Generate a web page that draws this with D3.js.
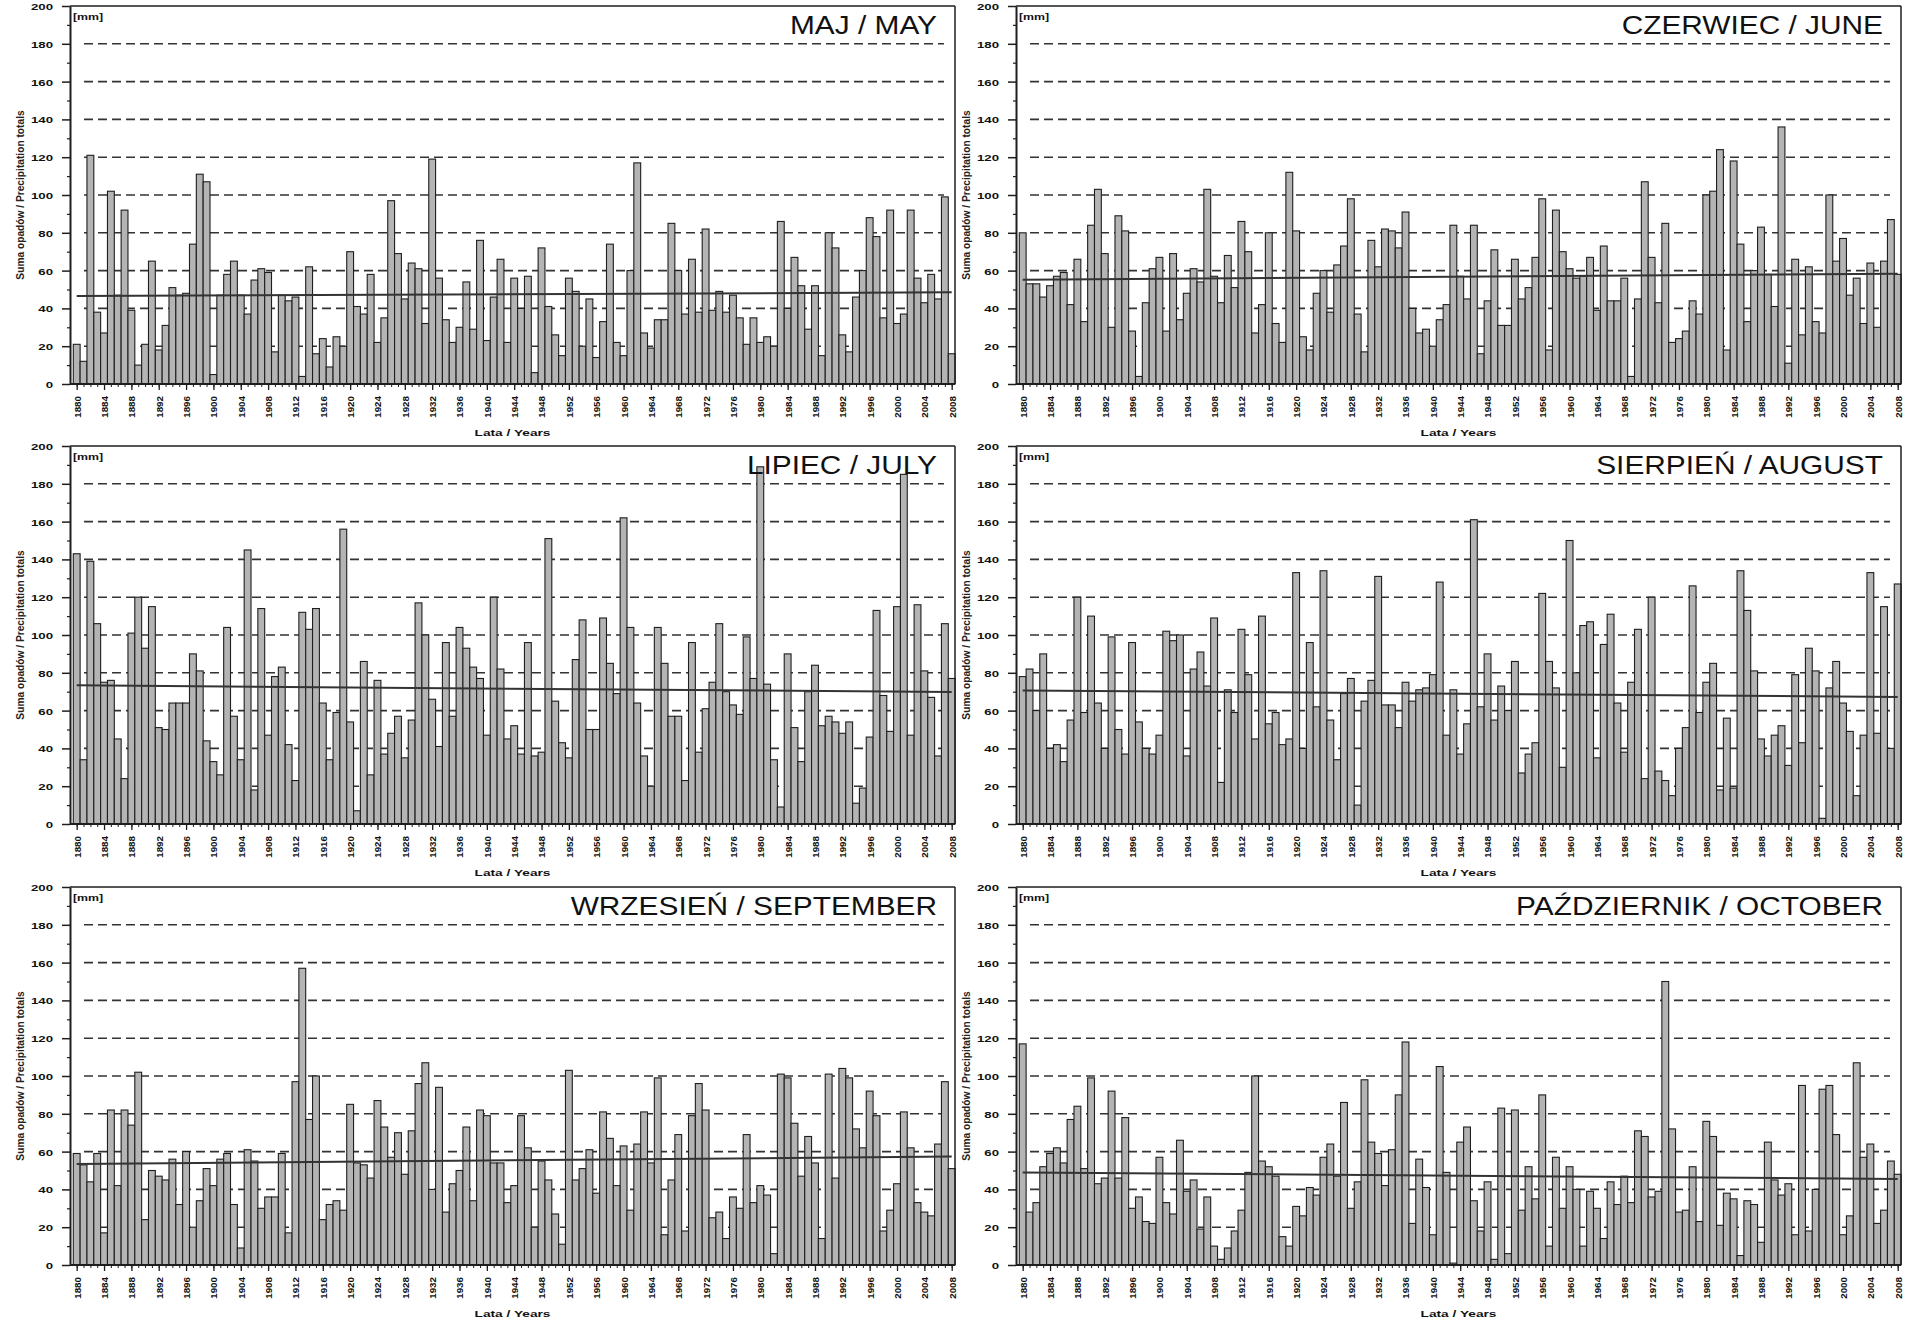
<!DOCTYPE html>
<html><head><meta charset="utf-8">
<script src="https://cdn.jsdelivr.net/npm/d3@7"></script>
<style>body{margin:0;background:#fff} svg{display:block} text{font-family:"Liberation Sans",Arial,sans-serif}</style>
</head><body><svg id="c" width="1915" height="1334"></svg>
<script>
const years = d3.range(1880, 2009);
const may = [21,12,121,38,27,102,47,92,39,10, 21,65,18,31,51,47,48,74,111,107, 5,47,58,65,47,37,55,61,59,17, 47,44,46,4,62,16,24,9,25,20, 70,41,37,58,22,35,97,69,45,64, 61,32,119,56,34,22,30,54,29,76, 23,46,66,22,56,40,57,6,72,41, 26,15,56,49,20,45,14,33,74,22, 15,60,117,27,19,34,34,85,60,37, 66,38,82,39,49,38,47,35,21,35, 22,25,20,86,40,67,52,29,52,15, 80,72,26,17,46,60,88,78,35,92, 32,37,92,56,43,58,45,99,16];
const june = [80,53,53,46,52,57,59,42,66,33, 84,103,69,30,89,81,28,4,43,61, 67,28,69,34,48,61,54,103,57,43, 68,51,86,70,27,42,80,32,22,112, 81,25,18,48,60,38,63,73,98,37, 17,76,62,82,81,72,91,40,27,29, 20,34,42,84,57,45,84,16,44,71, 31,31,66,45,51,67,98,18,92,70, 61,56,57,67,39,73,44,44,56,4, 45,107,67,43,85,22,24,28,44,37, 100,102,124,18,118,74,33,60,83,58, 41,136,11,66,26,62,33,27,100,65, 77,47,56,32,64,30,65,87,58];
const july = [143,34,139,106,75,76,45,24,101,120, 93,115,51,50,64,64,64,90,81,44, 33,26,104,57,34,145,18,114,47,78, 83,42,23,112,103,114,64,34,59,156, 54,7,86,26,76,37,48,57,35,55, 117,100,66,41,96,57,104,93,83,77, 47,120,82,45,52,37,96,36,38,151, 65,43,35,87,108,50,50,109,85,69, 162,104,64,36,20,104,85,57,57,23, 96,38,61,75,106,70,63,58,99,77, 189,74,34,9,90,51,33,70,84,52, 57,54,48,54,11,19,46,113,68,49, 115,185,47,116,81,67,36,106,77];
const august = [78,82,60,90,40,42,33,55,120,59, 110,64,40,99,50,37,96,54,40,37, 47,102,97,100,36,82,91,73,109,22, 71,59,103,79,45,110,53,59,42,45, 133,40,96,62,134,55,34,69,77,10, 65,76,131,63,63,51,75,65,71,72, 79,128,47,71,37,53,161,62,90,55, 73,60,86,27,37,43,122,86,72,30, 150,80,105,107,35,95,111,64,38,75, 103,24,120,28,23,15,40,51,126,59, 75,85,18,56,19,134,113,81,45,36, 47,52,31,79,43,93,81,3,72,86, 64,49,15,47,133,48,115,40,127];
const september = [59,53,44,59,17,82,42,82,74,102, 24,50,47,45,56,32,60,20,34,51, 42,56,59,32,9,61,55,30,36,36, 59,17,97,157,77,100,24,32,34,29, 85,54,53,46,87,73,57,70,48,71, 96,107,40,94,28,43,50,73,34,82, 79,54,54,33,42,79,62,20,55,45, 27,11,103,45,51,61,38,81,67,42, 63,29,64,81,54,99,16,45,69,18, 79,96,82,25,28,14,36,30,69,33, 42,37,6,101,99,75,47,68,54,14, 101,46,104,99,72,62,92,79,18,29, 43,81,62,33,28,26,64,97,51];
const october = [117,28,33,52,59,62,54,77,84,51, 99,43,46,92,46,78,30,36,23,22, 57,33,27,66,39,45,19,36,10,3, 9,18,29,49,100,55,52,47,15,10, 31,26,41,37,57,64,47,86,30,44, 98,65,59,42,61,90,118,22,56,41, 16,105,49,1,65,73,34,18,44,3, 83,6,82,29,52,35,90,10,57,30, 52,40,10,39,30,14,44,32,47,33, 71,68,36,39,150,72,28,29,52,23, 76,68,21,38,35,5,34,32,12,65, 45,37,43,16,95,18,40,93,95,69, 16,26,107,57,64,22,29,55,48];
const titles = ["MAJ / MAY", "CZERWIEC / JUNE", "LIPIEC / JULY", "SIERPIEŃ / AUGUST", "WRZESIEŃ / SEPTEMBER", "PAŹDZIERNIK / OCTOBER"];
const trendStart = [46.5, 55.2, 73.4, 70.7, 53.4, 49.0];
const trendEnd = [48.5, 58.3, 69.8, 67.2, 57.4, 45.5];
const yTicks = d3.range(0, 201, 20);
const yMinor = d3.range(10, 200, 20);
const xTickYears = d3.range(1880, 2009, 4);
const yTitle = "Suma opadów / Precipitation totals";
const xTitle = "Lata / Years";
const unitLabel = "[mm]";

const series = [may, june, july, august, september, october];
const svg = d3.select("#c");
const W = 885, H = 378;
const cols = [70, 1016], rows = [6, 446, 887];
const INK = "#1e1e1e";

series.forEach((vals, i) => {
  const left = cols[i % 2], top = rows[Math.floor(i / 2)];
  const g = svg.append("g").attr("transform", `translate(${left},${top})`);
  const x = d3.scaleLinear().domain([1880, 2008]).range([6.7, 881.7]);
  const bw = (x(2008) - x(1880)) / 128;
  const y = d3.scaleLinear().domain([0, 200]).range([H, 0]);

  // gridlines
  g.append("g").selectAll("line").data(yTicks.filter(t => t > 0 && t < 200)).join("line")
    .attr("x1", 14).attr("x2", W - 11)
    .attr("y1", d => y(d)).attr("y2", d => y(d))
    .attr("stroke", "#333").attr("stroke-width", 1.6).attr("stroke-dasharray", "9,5");

  // bars
  g.append("g").selectAll("rect").data(vals).join("rect")
    .attr("x", (d, j) => x(years[j]) - bw / 2).attr("width", bw)
    .attr("y", d => y(d)).attr("height", d => H - y(d))
    .attr("fill", "#b4b4b4").attr("stroke", INK).attr("stroke-width", 1.1);

  // trend
  g.append("line")
    .attr("x1", x(1880)).attr("x2", x(2008))
    .attr("y1", y(trendStart[i])).attr("y2", y(trendEnd[i]))
    .attr("stroke", "#333").attr("stroke-width", 2);

  // frame
  g.append("line").attr("x1", 0).attr("x2", W).attr("y1", 0).attr("y2", 0).attr("stroke", INK).attr("stroke-width", 1.5);
  g.append("line").attr("x1", W).attr("x2", W).attr("y1", 0).attr("y2", H).attr("stroke", INK).attr("stroke-width", 1.5);
  g.append("line").attr("x1", 0).attr("x2", W).attr("y1", H).attr("y2", H).attr("stroke", INK).attr("stroke-width", 2);

  // y axis
  const ya = g.append("g").call(d3.axisLeft(y).tickValues(yTicks).tickSize(8).tickSizeOuter(0));
  ya.select(".domain").attr("stroke", INK).attr("stroke-width", 2);
  ya.selectAll(".tick line").attr("stroke", INK).attr("stroke-width", 1.5);
  ya.selectAll(".tick text")
    .attr("x", -17 / 1.35).attr("dy", "0.36em")
    .attr("transform", "scale(1.35,1)")
    .attr("font-size", 9.8).attr("font-weight", "bold").attr("fill", "#111")
    .style("font-family", '"Liberation Sans",Arial,sans-serif');
  const ym = g.append("g").call(d3.axisLeft(y).tickValues(yMinor).tickSize(3).tickFormat(""));
  ym.select(".domain").remove();
  ym.selectAll(".tick line").attr("stroke", INK).attr("stroke-width", 1.2);

  // x axis
  const xa = g.append("g").attr("transform", `translate(0,${H})`)
    .call(d3.axisBottom(x).tickValues(xTickYears).tickSize(6).tickFormat(d => String(d)));
  xa.select(".domain").remove();
  xa.selectAll(".tick line").attr("stroke", INK).attr("stroke-width", 1.3);
  xa.selectAll(".tick text")
    .attr("x", -12).attr("y", 0).attr("dy", "0.35em")
    .attr("text-anchor", "end").attr("transform", "rotate(-90)")
    .attr("font-size", 9.8).attr("font-weight", "bold").attr("fill", "#111")
    .style("font-family", '"Liberation Sans",Arial,sans-serif');
  const xm = g.append("g").attr("transform", `translate(0,${H})`)
    .call(d3.axisBottom(x).tickValues(years).tickSize(3).tickFormat(""));
  xm.select(".domain").remove();
  xm.selectAll(".tick line").attr("stroke", INK).attr("stroke-width", 1);

  // unit label
  g.append("g").attr("transform", "translate(3,13.5)")
    .append("text").attr("transform", "scale(1.3,1)")
    .attr("font-size", 9.5).attr("font-weight", "bold").attr("fill", "#111").text(unitLabel);

  // title
  g.append("g").attr("transform", `translate(${W - 18},28)`)
    .append("text").attr("transform", "scale(1.17,1)").attr("text-anchor", "end")
    .attr("font-size", 25.5).attr("fill", "#111").text(titles[i]);

  // x title
  g.append("g").attr("transform", `translate(${W / 2},${H + 52})`)
    .append("text").attr("transform", "scale(1.4,1)").attr("text-anchor", "middle")
    .attr("font-size", 9.8).attr("font-weight", "bold").attr("fill", "#111").text(xTitle);

  // y title
  g.append("text").attr("transform", `translate(-50,${H / 2}) rotate(-90)`)
    .attr("text-anchor", "middle").attr("dy", "0.35em")
    .attr("font-size", 10.2).attr("font-weight", "bold").attr("fill", "#222").text(yTitle);
});
</script>
</body></html>
